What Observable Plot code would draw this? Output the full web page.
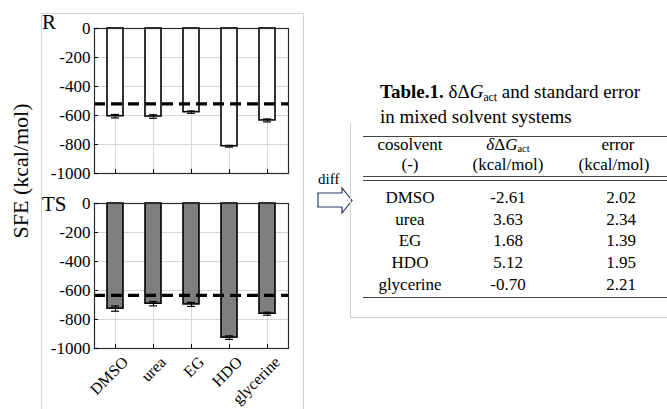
<!DOCTYPE html>
<html><head><meta charset="utf-8">
<script src="https://cdn.jsdelivr.net/npm/d3@7"></script>
<script src="https://cdn.jsdelivr.net/npm/@observablehq/plot@0.6"></script>
<style>
body{margin:0;background:#fff;font-family:"Liberation Serif",serif;color:#000;}
#wrap{position:relative;width:667px;height:409px;overflow:hidden;background:#fff;font-family:"Liberation Serif",serif;}
.abs{position:absolute;white-space:nowrap;line-height:1;font-family:"Liberation Serif",serif;}
.sub{font-size:0.62em;vertical-align:-0.22em;line-height:0;}
.rule{position:absolute;left:363px;width:310px;border-top:1.3px solid #444;height:0;}
.cell{position:absolute;transform:translateX(-50%);white-space:nowrap;font-size:17px;line-height:1;font-family:"Liberation Serif",serif;}
svg text{font-family:"Liberation Serif",serif;}
</style></head><body><div id="wrap"></div>
<script>
// ---- data ----
const cosolvents = ["DMSO", "urea", "EG", "HDO", "glycerine"];
const sfeR  = [-605, -607, -577, -812, -634];
const errR  = [12, 12, 8, 6, 10];
const refR  = -520;
const sfeTS = [-725, -691, -696, -925, -760];
const errTS = [18, 15, 14, 12, 10];
const refTS = -634;
const yTicks = [0, -200, -400, -600, -800, -1000];
const ddG    = ["-2.61", "3.63", "1.68", "5.12", "-0.70"];
const ddGerr = ["2.02", "2.34", "1.39", "1.95", "2.21"];

const wrap = document.getElementById("wrap");

function panel(vals, errs, ref, fill, {height, marginTop, marginBottom, labels}) {
  const data = cosolvents.map((c, i) => ({c, v: vals[i], e: errs[i]}));
  return Plot.plot({
    width: 300, height, marginLeft: 94, marginRight: 12, marginTop, marginBottom,
    style: {fontFamily: "Liberation Serif", fontSize: "17px", color: "#000", background: "transparent", overflow: "visible"},
    x: {domain: cosolvents, paddingInner: 0.59, paddingOuter: 0.295, label: null},
    y: {domain: [-1000, 0], label: null},
    marks: [
      Plot.gridY(yTicks, {stroke: "#d6d6d6", strokeOpacity: 1}),
      Plot.gridX(cosolvents, {stroke: "#d6d6d6", strokeOpacity: 1}),
      Plot.barY(data, {x: "c", y: "v", fill, stroke: "#000", strokeWidth: 1.6}),
      Plot.ruleX(data, {x: "c", y1: d => d.v - d.e, y2: d => d.v + d.e, stroke: "#000", strokeWidth: 1.2}),
      Plot.tickY(data, {x: "c", y: d => d.v - d.e, insetLeft: 4, insetRight: 4, stroke: "#000", strokeWidth: 1.2}),
      Plot.tickY(data, {x: "c", y: d => d.v + d.e, insetLeft: 4, insetRight: 4, stroke: "#000", strokeWidth: 1.2}),
      Plot.ruleY([ref], {stroke: "#000", strokeWidth: 3.2, strokeDasharray: "11,6"}),
      Plot.frame({stroke: "#2a2a2a", strokeWidth: 1.2}),
      Plot.axisY(yTicks, {tickSize: 0, tickPadding: 4, tickFormat: d => String(d), fontSize: 17, label: null}),
      Plot.axisY(yTicks, {tickSize: -4, fill: "none", label: null}),
      Plot.axisX({tickSize: -4, fill: "none", label: null}),
      labels ? Plot.axisX({tickSize: 0, tickRotate: -45, tickPadding: 11, dx: 10, fontSize: 16, label: null}) : null
    ]
  });
}

// left panel frame
const pf = document.createElement("div");
pf.style.cssText = "position:absolute;left:41px;top:13px;width:261px;height:420px;border-left:1px solid #d4d4d4;border-top:1px solid #d4d4d4;border-right:1px solid #d4d4d4;";
wrap.appendChild(pf);

const topPlot = panel(sfeR, errR, refR, "#fff", {height: 182, marginTop: 28, marginBottom: 9, labels: false});
topPlot.style.cssText += ";position:absolute;left:0;top:0;";
wrap.appendChild(topPlot);
const botPlot = panel(sfeTS, errTS, refTS, "#7f7f7f", {height: 227, marginTop: 21, marginBottom: 61, labels: true});
botPlot.style.cssText += ";position:absolute;left:0;top:182px;";
wrap.appendChild(botPlot);

function addText(html, css) {
  const d = document.createElement("div");
  d.className = "abs";
  d.innerHTML = html;
  d.style.cssText += css;
  wrap.appendChild(d);
  return d;
}
addText("R", "left:42px;top:12px;font-size:21px;");
addText("TS", "left:42px;top:194px;font-size:21px;");
addText("SFE (kcal/mol)", "left:21px;top:171px;font-size:22px;transform:translate(-50%,-50%) rotate(-90deg);");

// arrow + diff
addText("diff", "left:318px;top:172px;font-size:15px;");
const ns = "http://www.w3.org/2000/svg";
const arr = document.createElementNS(ns, "svg");
arr.setAttribute("width", 40); arr.setAttribute("height", 30);
arr.style.cssText = "position:absolute;left:316px;top:186px;";
arr.innerHTML = '<path d="M2,7 H26 V2 L36,14.5 L26,27 V21 H2 Z" fill="#fff" stroke="#2b3a67" stroke-width="1.2"/>';
wrap.appendChild(arr);

// table frame
const tf = document.createElement("div");
tf.style.cssText = "position:absolute;left:350px;top:123px;width:330px;height:194px;border-left:1px solid #cfcfcf;border-bottom:1px solid #cfcfcf;";
wrap.appendChild(tf);

// title
addText('<b>Table.1.</b> δΔ<i>G</i><span class="sub">act</span> and standard error<br>in mixed solvent systems',
  "left:380px;top:79px;font-size:19px;line-height:25px;");

// rules
[136, 176, 179.5, 297].forEach(y => {
  const r = document.createElement("div");
  r.className = "rule"; r.style.top = y + "px";
  wrap.appendChild(r);
});

const colX = [410, 508, 618];
function cell(html, x, baseline) {
  const d = document.createElement("div");
  d.className = "cell";
  d.innerHTML = html;
  d.style.left = x + "px";
  d.style.top = (baseline - 0.838 * 17) + "px";
  wrap.appendChild(d);
}
cell("cosolvent", colX[0], 150);
cell('<i>δ</i>Δ<i>G</i><span class="sub">act</span>', colX[1], 150);
cell("error", colX[2], 150);
cell("(-)", colX[0], 170);
cell("(kcal/mol)", colX[1], 170);
cell("(kcal/mol)", colX[2] - 4, 170);
cosolvents.forEach((c, i) => {
  const b = 203 + 21.8 * i;
  cell(c, colX[0], b);
  cell(ddG[i], colX[1], b);
  cell(ddGerr[i], colX[2] + 3, b);
});
</script></body></html>
